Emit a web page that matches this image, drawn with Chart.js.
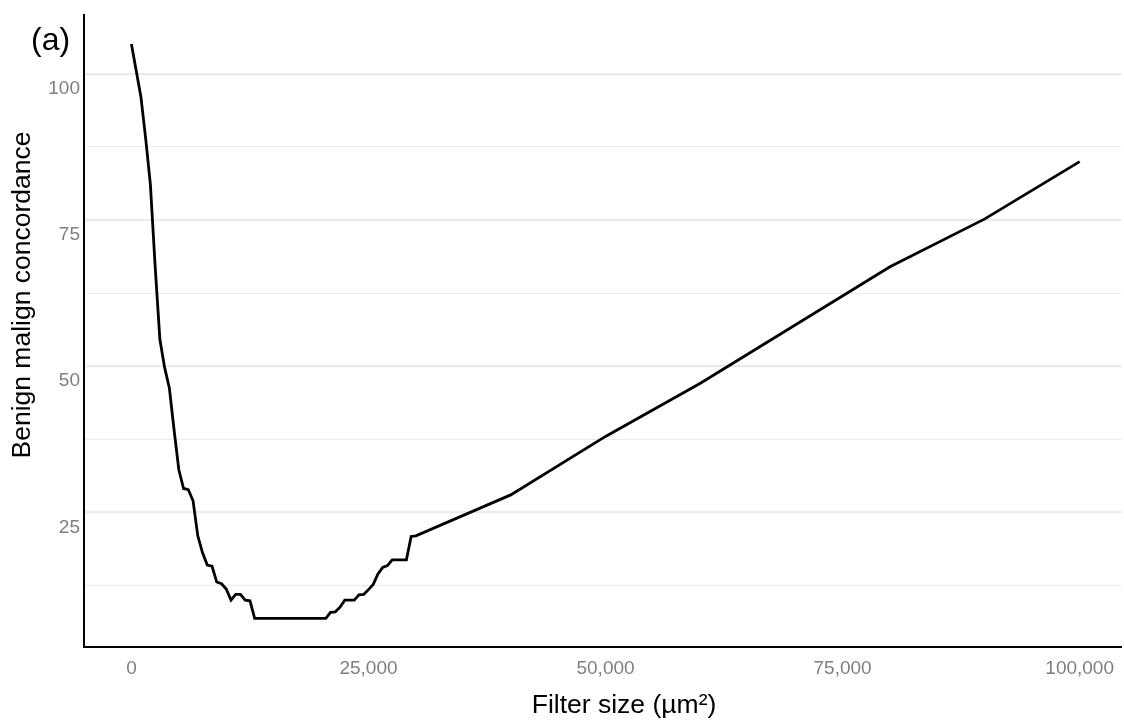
<!DOCTYPE html>
<html lang="en">
<head>
<meta charset="utf-8">
<title>Benign malign concordance</title>
<script src="https://cdn.jsdelivr.net/npm/chart.js@4.4.1/dist/chart.umd.min.js"></script>
<style>
    html, body { margin: 0; padding: 0; background: #ffffff; }
    #wrap { width: 1124px; height: 724px; position: relative; }
</style>
</head>
<body>
<div id="wrap"><canvas id="concordanceChart" width="1124" height="724"></canvas></div>
<script>
// Données (taille du filtre en µm², concordance)
const filterSize = [
    0, 1000, 1500, 2000, 2500, 3000, 3500, 4000, 4500, 5000,
    5500, 6000, 6500, 7000, 7500, 8000, 8500, 9000, 9500, 10000,
    10500, 11000, 11500, 12000, 12500, 13000, 20500, 21000, 21500, 22000,
    22500, 23000, 23500, 24000, 24500, 25000, 25500, 26000, 26500, 27000,
    27500, 29000, 29500, 30000, 40000, 50000, 60000, 80000, 90000, 100000
];
const concordance = [
    105.1, 96.1, 89.0, 81.1, 67.2, 54.6, 49.8, 46.3, 39.1, 32.3,
    29.1, 28.9, 27.0, 21.0, 18.1, 16.0, 15.8, 13.1, 12.8, 11.9,
    10.0, 11.0, 11.0, 10.0, 9.9, 6.9, 6.9, 7.9, 8.0, 8.8,
    10.0, 10.0, 10.0, 10.9, 11.0, 11.8, 12.7, 14.5, 15.6, 15.9,
    16.9, 16.9, 20.9, 21.0, 28.0, 38.0, 47.1, 67.0, 75.2, 85.0
];

// Graduations des axes
const xTicks = [0, 25000, 50000, 75000, 100000];
const yTicks = [12.5, 25, 37.5, 50, 62.5, 75, 87.5, 100];
const yMajor = [25, 50, 75, 100];

const fontFamily = '"Liberation Sans", Arial, sans-serif';

// Titres des axes et étiquette "(a)", placés comme sur la figure
const labelsPlugin = {
    id: 'labelsPlugin',
    afterDraw(chart) {
        const ctx = chart.ctx;
        ctx.save();
        ctx.fillStyle = '#000000';

        // Étiquette du panneau
        ctx.font = '32px ' + fontFamily;
        ctx.textAlign = 'left';
        ctx.textBaseline = 'middle';
        ctx.fillText('(a)', 31, 41);

        // Titre de l'axe X
        ctx.font = '26.5px ' + fontFamily;
        ctx.textAlign = 'center';
        ctx.fillText('Filter size (µm²)', 624, 706);

        // Titre de l'axe Y (vertical)
        ctx.translate(23, 295);
        ctx.rotate(-Math.PI / 2);
        ctx.fillText('Benign malign concordance', 0, 0);
        ctx.restore();
    }
};

function buildChart() {
    const canvas = document.getElementById('concordanceChart');
    if (!canvas) {
        console.error('Canvas #concordanceChart introuvable');
        return;
    }
    const ctx = canvas.getContext('2d');

    const points = filterSize.map((x, i) => ({ x: x, y: concordance[i] }));

    const config = {
        type: 'line',
        data: {
            datasets: [{
                data: points,
                borderColor: '#000000',
                borderWidth: 2.8,
                pointRadius: 0,
                tension: 0,
                fill: false
            }]
        },
        options: {
            responsive: false,
            animation: false,
            layout: { padding: { top: 12, right: 0, bottom: 0, left: 0 } },
            plugins: {
                legend: { display: false },
                tooltip: { enabled: false }
            },
            scales: {
                x: {
                    type: 'linear',
                    min: -5000,
                    max: 104400,
                    afterBuildTicks: (scale) => {
                        scale.ticks = xTicks.map(v => ({ value: v }));
                    },
                    afterFit: (scale) => { scale.height = 77; },
                    grid: { display: false, drawTicks: false },
                    border: { display: true, color: '#000000', width: 2 },
                    ticks: {
                        padding: 10,
                        color: '#7f7f7f',
                        font: { family: fontFamily, size: 19 },
                        maxRotation: 0,
                        autoSkip: false,
                        callback: (v) => Number(v).toLocaleString('en-US')
                    },
                    title: { display: false }
                },
                y: {
                    type: 'linear',
                    min: 1.99,
                    max: 110.0,
                    afterBuildTicks: (scale) => {
                        scale.ticks = yTicks.map(v => ({ value: v }));
                    },
                    afterFit: (scale) => { scale.width = 84; },
                    grid: {
                        drawTicks: false,
                        color: '#ebebeb',
                        lineWidth: (c) => (c.tick && yMajor.includes(c.tick.value)) ? 2.2 : 1.1
                    },
                    border: { display: true, color: '#000000', width: 2 },
                    ticks: {
                        padding: 4,
                        labelOffset: 15,
                        color: '#7f7f7f',
                        font: { family: fontFamily, size: 19 },
                        autoSkip: false,
                        callback: (v) => yMajor.includes(v) ? String(v) : ''
                    },
                    title: { display: false }
                }
            }
        },
        plugins: [labelsPlugin]
    };

    try {
        window.concordanceChart = new Chart(ctx, config);
        console.log('Graphique créé');
    } catch (e) {
        console.error('Erreur lors de la création du graphique:', e);
    }
}

buildChart();
</script>
</body>
</html>
